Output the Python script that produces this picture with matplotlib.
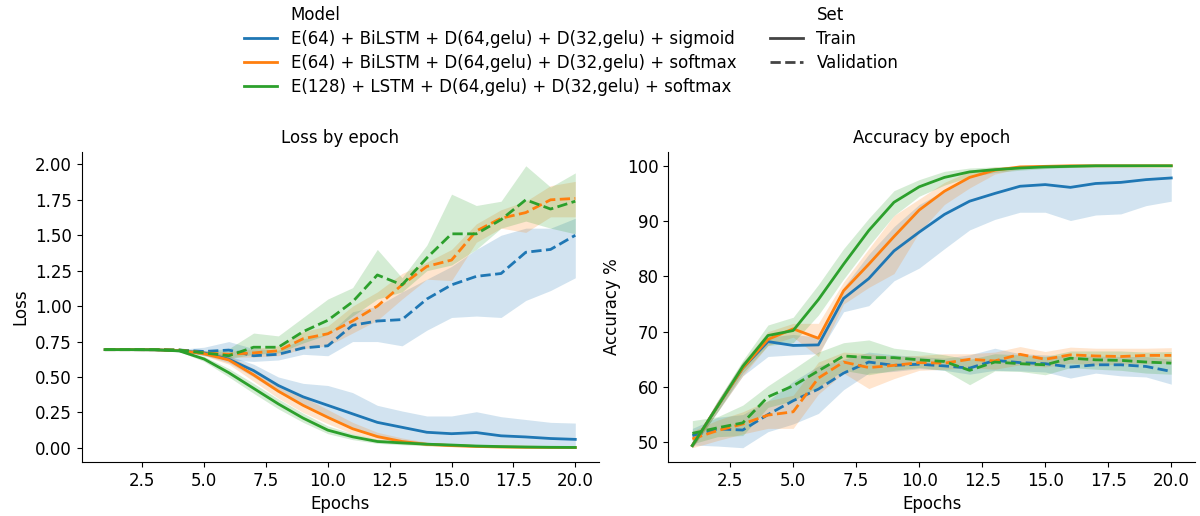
import numpy as np
import matplotlib
matplotlib.use("Agg")
from matplotlib import pyplot as plt
from matplotlib.lines import Line2D

epochs = np.arange(1, 21)
models = ["E(64) + BiLSTM + D(64,gelu) + D(32,gelu) + sigmoid",
          "E(64) + BiLSTM + D(64,gelu) + D(32,gelu) + softmax",
          "E(128) + LSTM + D(64,gelu) + D(32,gelu) + softmax"]
sets = ["Train", "Validation"]

# loss, train (mean, lower, upper of the band)
loss_train_m1 = [0.693,0.693,0.692,0.685,0.67,0.625,0.545,0.44,0.36,0.30,0.24,0.18,0.145,0.11,0.10,0.108,0.085,0.077,0.066,0.06]
loss_train_m1_lo = [0.690,0.690,0.689,0.680,0.655,0.60,0.50,0.39,0.30,0.22,0.14,0.07,0.04,0.02,0.015,0.012,0.008,0.006,0.005,0.004]
loss_train_m1_hi = [0.696,0.696,0.695,0.690,0.685,0.65,0.59,0.50,0.455,0.44,0.39,0.30,0.26,0.225,0.225,0.255,0.22,0.20,0.18,0.175]
loss_train_m2 = [0.693,0.693,0.692,0.686,0.665,0.62,0.515,0.40,0.30,0.215,0.135,0.08,0.045,0.025,0.016,0.01,0.006,0.004,0.003,0.002]
loss_train_m2_lo = [0.690,0.690,0.689,0.682,0.65,0.59,0.47,0.35,0.25,0.17,0.10,0.055,0.03,0.015,0.008,0.005,0.003,0.002,0.001,0.001]
loss_train_m2_hi = [0.696,0.696,0.695,0.69,0.68,0.65,0.56,0.45,0.36,0.27,0.18,0.11,0.07,0.04,0.027,0.018,0.011,0.007,0.005,0.004]
loss_train_m3 = [0.693,0.693,0.692,0.684,0.627,0.53,0.42,0.31,0.21,0.125,0.078,0.045,0.035,0.026,0.02,0.013,0.009,0.006,0.004,0.003]
loss_train_m3_lo = [0.690,0.690,0.689,0.680,0.61,0.50,0.385,0.275,0.18,0.10,0.058,0.032,0.022,0.015,0.011,0.007,0.004,0.003,0.002,0.001]
loss_train_m3_hi = [0.696,0.696,0.695,0.688,0.645,0.56,0.455,0.345,0.245,0.155,0.10,0.06,0.05,0.038,0.03,0.02,0.014,0.009,0.007,0.005]

# loss, validation
loss_val_m1 = [0.693,0.693,0.693,0.690,0.68,0.69,0.65,0.66,0.705,0.72,0.865,0.895,0.905,1.05,1.15,1.21,1.23,1.38,1.40,1.50]
loss_val_m1_lo = [0.690,0.690,0.690,0.685,0.65,0.62,0.61,0.62,0.66,0.65,0.75,0.75,0.72,0.83,0.92,0.93,0.92,1.04,1.11,1.20]
loss_val_m1_hi = [0.696,0.696,0.696,0.695,0.71,0.75,0.70,0.69,0.77,0.80,0.96,1.0,1.1,1.19,1.28,1.40,1.50,1.55,1.55,1.62]
loss_val_m2 = [0.693,0.693,0.693,0.690,0.67,0.66,0.67,0.685,0.77,0.805,0.895,1.0,1.15,1.28,1.325,1.53,1.62,1.66,1.75,1.76]
loss_val_m2_lo = [0.690,0.690,0.690,0.686,0.655,0.64,0.64,0.65,0.70,0.72,0.81,0.90,1.05,1.19,1.18,1.45,1.55,1.52,1.63,1.63]
loss_val_m2_hi = [0.696,0.696,0.696,0.694,0.685,0.68,0.70,0.72,0.82,0.86,1.0,1.1,1.23,1.31,1.40,1.58,1.68,1.74,1.85,1.88]
loss_val_m3 = [0.693,0.693,0.693,0.690,0.67,0.65,0.71,0.71,0.82,0.90,1.03,1.22,1.15,1.34,1.51,1.51,1.61,1.75,1.685,1.74]
loss_val_m3_lo = [0.690,0.690,0.690,0.686,0.655,0.63,0.66,0.67,0.74,0.80,0.93,1.05,1.10,1.25,1.29,1.40,1.55,1.60,1.55,1.51]
loss_val_m3_hi = [0.696,0.696,0.696,0.694,0.685,0.70,0.81,0.79,0.92,1.05,1.13,1.40,1.20,1.43,1.79,1.71,1.74,1.99,1.84,1.94]

# accuracy %, train
acc_train_m1 = [49.4,56.5,63.4,68.2,67.5,67.6,76.0,79.6,84.6,88.0,91.2,93.6,95.0,96.3,96.6,96.1,96.8,97.0,97.5,97.8]
acc_train_m1_lo = [49.0,55.5,62.0,65.5,65.8,66.0,73.6,74.7,79.2,81.5,85.0,88.4,90.3,91.6,91.6,90.1,91.1,91.3,92.8,93.6]
acc_train_m1_hi = [49.8,57.5,64.5,69.0,69.5,69.0,78.0,84.0,89.0,93.0,95.5,98.0,99.0,99.5,99.7,99.8,99.8,99.8,99.7,99.6]
acc_train_m2 = [49.4,56.5,63.4,68.6,70.5,68.8,77.4,82.2,87.2,92.0,95.4,97.9,99.2,99.8,99.9,100,100,100,100,100]
acc_train_m2_lo = [49.0,55.5,62.0,67.5,69.0,65.5,75.0,78.0,80.5,88.0,93.0,96.0,98.5,99.5,99.8,99.9,99.9,100,100,100]
acc_train_m2_hi = [49.8,57.5,64.5,70.0,71.5,71.5,79.0,85.0,91.0,94.0,97.0,99.0,99.8,100,100,100,100,100,100,100]
acc_train_m3 = [49.4,56.5,63.7,69.3,70.2,75.8,82.2,88.3,93.4,96.2,97.9,98.9,99.3,99.6,99.8,99.9,100,100,100,100]
acc_train_m3_lo = [49.0,55.5,62.5,67.5,68.0,73.0,79.5,85.5,91.0,94.5,96.5,98.0,98.8,99.2,99.5,99.7,99.8,99.9,99.9,99.9]
acc_train_m3_hi = [49.8,57.5,64.8,71.2,72.6,78.5,85.0,90.5,95.5,97.5,99.0,99.6,99.8,99.9,100,100,100,100,100,100]

# accuracy %, validation
acc_val_m1 = [51.2,52.4,52.2,55.0,57.5,59.6,62.5,64.5,63.9,64.1,63.8,63.4,64.8,64.4,64.2,63.6,64.0,64.0,63.7,62.8]
acc_val_m1_lo = [49.5,49.3,49.0,51.9,53.3,55.2,59.5,62.5,62.8,63.3,63.0,62.3,63.0,62.9,62.7,61.6,62.5,62.0,61.8,60.5]
acc_val_m1_hi = [52.5,54.5,55.0,57.5,61.0,63.8,65.0,66.3,65.8,65.5,65.2,65.8,67.0,66.0,65.8,65.5,65.6,65.5,65.5,65.0]
acc_val_m2 = [50.6,52.1,53.3,54.9,55.5,61.6,64.5,63.5,63.9,64.4,64.3,65.0,64.7,65.9,65.0,65.8,65.6,65.5,65.7,65.7]
acc_val_m2_lo = [49.0,50.3,51.5,52.5,52.5,58.7,62.5,59.7,61.5,63.0,63.2,63.5,63.2,64.0,63.6,64.3,64.0,64.1,64.2,64.3]
acc_val_m2_hi = [52.0,54.0,55.5,57.5,58.5,64.5,66.3,66.0,65.5,65.7,66.0,66.0,66.3,67.3,66.4,67.2,67.0,67.0,67.0,67.1]
acc_val_m3 = [51.6,52.6,53.5,58.2,60.2,62.9,65.6,65.3,65.3,64.9,64.6,63.0,64.5,64.2,64.0,65.2,64.9,64.8,64.5,64.3]
acc_val_m3_lo = [49.7,51.0,51.2,56.3,57.5,60.0,63.0,62.2,63.0,63.5,63.0,60.4,62.9,62.8,62.2,63.5,63.2,63.0,62.5,62.3]
acc_val_m3_hi = [53.9,54.6,56.7,60.2,63.2,66.3,68.0,68.5,67.0,66.5,65.8,65.0,66.0,65.8,65.5,66.5,66.5,66.5,66.3,66.4]

colors = ["#1f77b4", "#ff7f0e", "#2ca02c"]
dashes = {"Train": "-", "Validation": "--"}

loss_series = [
    (0, "Train", loss_train_m1, loss_train_m1_lo, loss_train_m1_hi),
    (0, "Validation", loss_val_m1, loss_val_m1_lo, loss_val_m1_hi),
    (1, "Train", loss_train_m2, loss_train_m2_lo, loss_train_m2_hi),
    (1, "Validation", loss_val_m2, loss_val_m2_lo, loss_val_m2_hi),
    (2, "Train", loss_train_m3, loss_train_m3_lo, loss_train_m3_hi),
    (2, "Validation", loss_val_m3, loss_val_m3_lo, loss_val_m3_hi),
]
acc_series = [
    (0, "Train", acc_train_m1, acc_train_m1_lo, acc_train_m1_hi),
    (0, "Validation", acc_val_m1, acc_val_m1_lo, acc_val_m1_hi),
    (1, "Train", acc_train_m2, acc_train_m2_lo, acc_train_m2_hi),
    (1, "Validation", acc_val_m2, acc_val_m2_lo, acc_val_m2_hi),
    (2, "Train", acc_train_m3, acc_train_m3_lo, acc_train_m3_hi),
    (2, "Validation", acc_val_m3, acc_val_m3_lo, acc_val_m3_hi),
]

plt.rcParams['font.size'] = 12

fig = plt.figure(figsize=(12, 5.16), dpi=100)
ax1 = fig.add_axes([0.068, 0.105, 0.431, 0.601])
ax2 = fig.add_axes([0.557, 0.105, 0.439, 0.601])

def draw(ax, series, title, ylabel):
    for i, s, m, lo, hi in series:
        ax.fill_between(epochs, lo, hi, color=colors[i], alpha=0.2, linewidth=0)
        ax.plot(epochs, m, color=colors[i], linestyle=dashes[s], linewidth=2)
    ax.set_title(title, fontsize=12)
    ax.set_xlabel("Epochs")
    ax.set_ylabel(ylabel)
    ax.spines['top'].set_visible(False)
    ax.spines['right'].set_visible(False)

draw(ax1, loss_series, "Loss by epoch", "Loss")
draw(ax2, acc_series, "Accuracy by epoch", "Accuracy %")
ax1.set_xticks([2.5, 5.0, 7.5, 10.0, 12.5, 15.0, 17.5, 20.0])
ax2.set_xticks([2.5, 5.0, 7.5, 10.0, 12.5, 15.0, 17.5, 20.0])
ax2.set_yticks([50, 60, 70, 80, 90, 100])

blank = Line2D([], [], linestyle='')
handles = [blank] + [Line2D([], [], color=c, linewidth=2) for c in colors]
handles += [blank, Line2D([], [], color='#444444', linewidth=2, linestyle='-'),
            Line2D([], [], color='#444444', linewidth=2, linestyle='--')]
labels = ["Model"] + models + ["Set"] + sets
fig.legend(handles, labels, ncol=2, frameon=False, loc='upper center',
           bbox_to_anchor=(0.476, 1.018), columnspacing=2.0, labelspacing=0.37)

plt.savefig("out.png", dpi=100)
